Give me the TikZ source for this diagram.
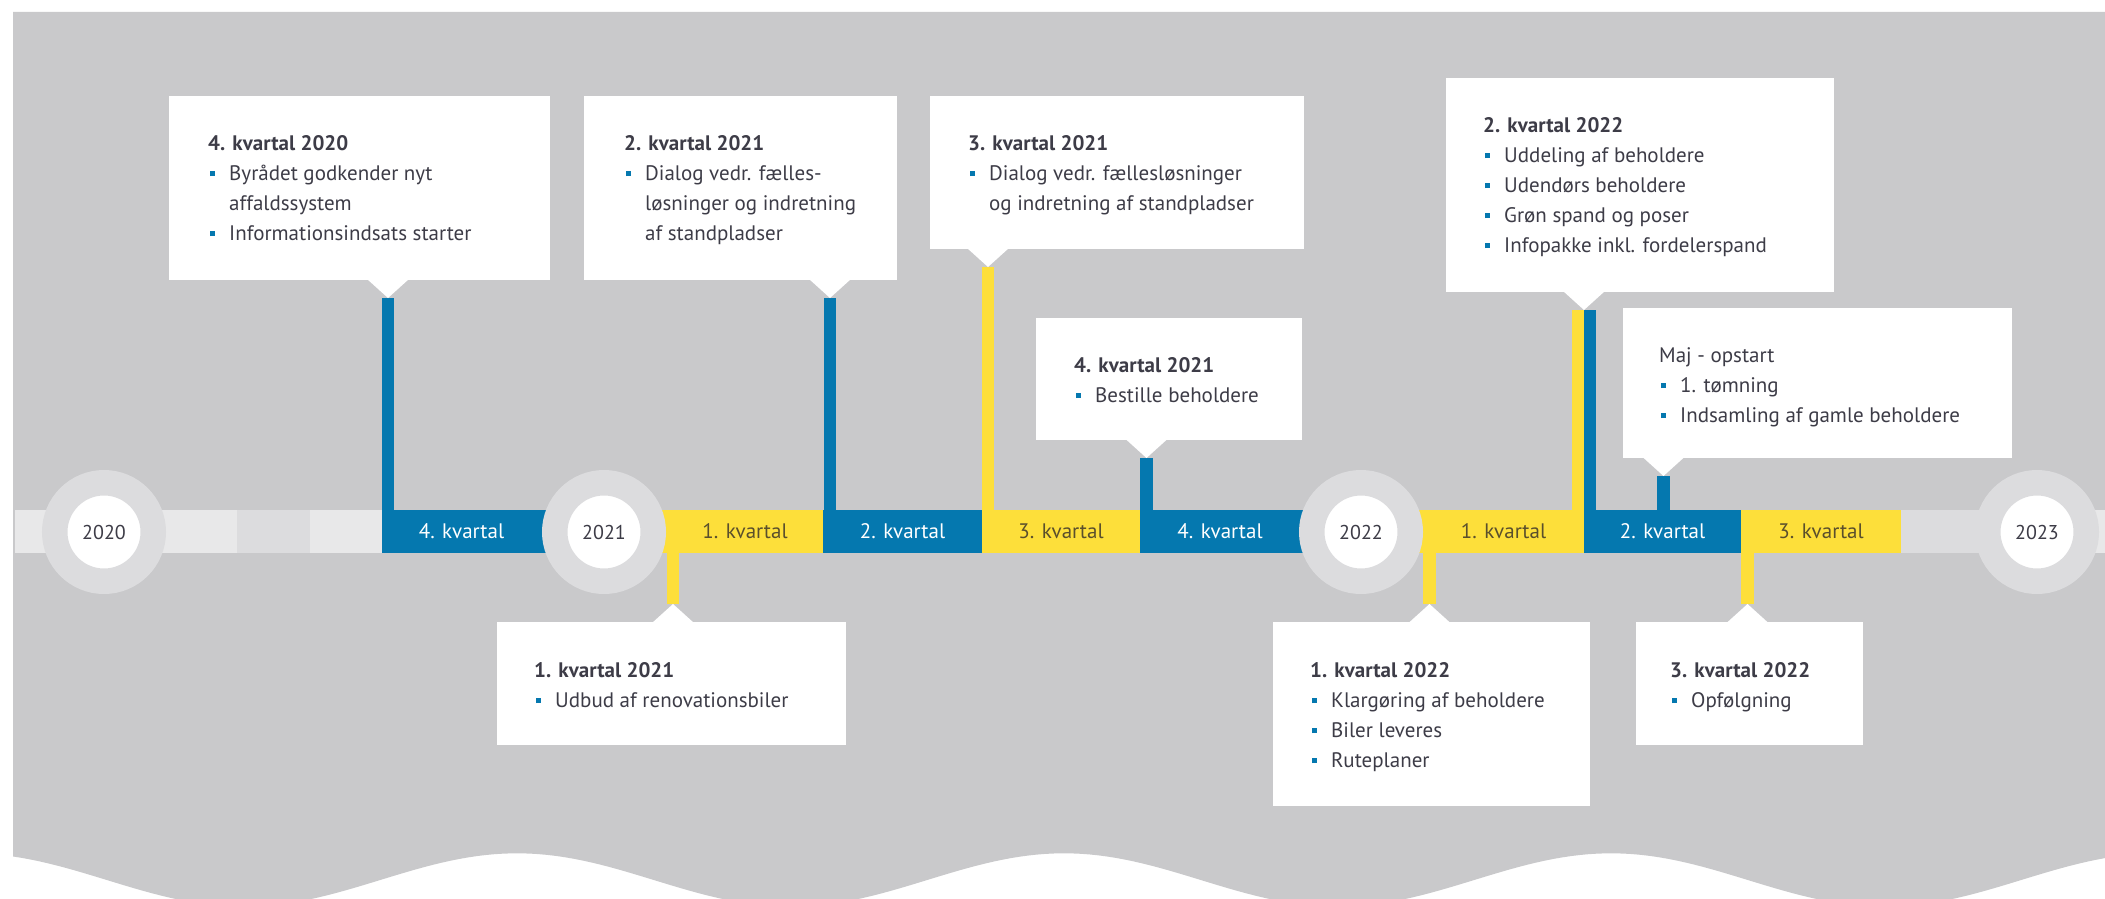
\documentclass[tikz,border=0pt]{standalone}
\usepackage{fontspec}
\setmainfont{PT Sans}
\usetikzlibrary{positioning}

\definecolor{bggray}{HTML}{C9C9CB}
\definecolor{barlite}{HTML}{E8E8E9}
\definecolor{barmid}{HTML}{DCDCDE}
\definecolor{kblue}{HTML}{0578AF}
\definecolor{kyellow}{HTML}{FDDF3A}
\definecolor{textdark}{HTML}{3D3C47}
\definecolor{yeltext}{HTML}{5A4F2C}

% bullet and indent for the box texts
\newcommand{\bul}{\makebox[21pt][l]{\hspace*{2pt}\textcolor{kblue}{\rule[4pt]{5pt}{5pt}}}}
\newcommand{\ind}{\hspace*{21pt}}

\begin{document}
\begin{tikzpicture}[x=1pt, y=-1pt,
    box/.style = {fill=white, anchor=north west, inner sep=0pt},
    txt/.style = {align=left, inner sep=0pt, text=textdark, font=\fontsize{21}{30}\selectfont},
    qtr/.style = {minimum height=43pt, inner sep=0pt, font=\fontsize{21}{21}\selectfont},
    qblue/.style = {qtr, fill=kblue, text=white},
    qyel/.style = {qtr, fill=kyellow, text=yeltext},
    year/.style = {circle, fill=white, draw=barmid, line width=25.5pt, minimum size=98.5pt,
                   inner sep=0pt, text=textdark, font=\fontsize{20}{20}\selectfont},
    stemblue/.style = {draw=kblue, line width=12.5pt},
    stemyel/.style = {draw=kyellow, line width=12.5pt}]

\useasboundingbox (0,0) rectangle (2105,899);
\clip (0,0) rectangle (2105,899);

% background with wavy bottom
\fill[bggray] (13,12) -- (2105,12)
    -- plot[domain=2105:13, samples=240] (\x, {880-26.7*cos((\x-517)*0.65814)}) -- cycle;

% pointer tips
\coordinate (pA) at (388,298);
\coordinate (pB) at (830,298);
\coordinate (pC) at (988,267);
\coordinate (pD) at (1146.5,458);
\coordinate (pE) at (1584,310);
\coordinate (pEy) at (1578,310);
\coordinate (pEb) at (1590,310);
\coordinate (pF) at (1663.5,476);
\coordinate (pG) at (673,604);
\coordinate (pH) at (1429.5,604);
\coordinate (pI) at (1747.5,604);
\coordinate (bar) at (0,531.5);

% stems (drawn below the bar)
\draw[stemblue] (pA) -- (pA |- bar);
\draw[stemblue] (pB) -- (pB |- bar);
\draw[stemyel] (pC) -- (pC |- bar);
\draw[stemblue] (pD) -- (pD |- bar);
\draw[stemyel] (pEy) -- (pEy |- bar);
\draw[stemblue] (pEb) -- (pEb |- bar);
\draw[stemblue] (pF) -- (pF |- bar);
\draw[stemyel] (pG) -- (pG |- bar);
\draw[stemyel] (pH) -- (pH |- bar);
\draw[stemyel] (pI) -- (pI |- bar);

% the bar
\node[qtr, fill=barlite, minimum width=367pt] (lite0) at (198.5,531.5) {};
\node[qtr, fill=barmid, minimum width=73pt] (mid0) at (273.5,531.5) {};
\node[qblue, minimum width=159pt] (q4a) at (461.5,531.5) {4. kvartal};
\node[qyel, minimum width=156pt] (q1b) at (745,531.5) {1. kvartal};
\node[qblue, minimum width=159pt] (q2b) at (902.5,531.5) {2. kvartal};
\node[qyel, minimum width=158pt] (q3b) at (1061,531.5) {3. kvartal};
\node[qblue, minimum width=160pt] (q4b) at (1220,531.5) {4. kvartal};
\node[qyel, minimum width=161pt] (q1c) at (1503.5,531.5) {1. kvartal};
\node[qblue, minimum width=157pt] (q2c) at (1662.5,531.5) {2. kvartal};
\node[qyel, minimum width=160pt] (q3c) at (1821,531.5) {3. kvartal};
\node[qtr, fill=barmid, minimum width=136pt] (mid1) at (1969,531.5) {};
\node[qtr, fill=barlite, minimum width=68pt] (lite1) at (2071,531.5) {};
\fill[kblue] (q4a.north east) rectangle ++(15,43);
\fill[kyellow] (q1b.north west) rectangle ++(-15,43);
\fill[kblue] (q4b.north east) rectangle ++(15,43);
\fill[kyellow] (q1c.north west) rectangle ++(-15,43);

% years
\node[year] (y2020) at (104,532) {2020};
\node[year] (y2021) at (604,532) {2021};
\node[year] (y2022) at (1361,532) {2022};
\node[year] (y2023) at (2037,532) {2023};

% boxes above
\node[box, minimum width=381pt, minimum height=184pt] (bA) at (169,96) {};
\fill[white] (pA) -- ++(-21,-19) -- ++(42,0) -- cycle;
\node[txt, below right=39pt and 39pt of bA.north west] (xA)
    {\textbf{4. kvartal 2020}\\ \bul Byrådet godkender nyt\\ \ind affaldssystem\\ \bul Informationsindsats starter};

\node[box, minimum width=313pt, minimum height=184pt] (bB) at (584,96) {};
\fill[white] (pB) -- ++(-21,-19) -- ++(42,0) -- cycle;
\node[txt, below right=39pt and 40pt of bB.north west] (xB)
    {\textbf{2. kvartal 2021}\\ \bul Dialog vedr. fælles-\\ \ind løsninger og indretning\\ \ind af standpladser};

\node[box, minimum width=374pt, minimum height=153pt] (bC) at (930,96) {};
\fill[white] (pC) -- ++(-21,-19) -- ++(42,0) -- cycle;
\node[txt, below right=39pt and 38pt of bC.north west] (xC)
    {\textbf{3. kvartal 2021}\\ \bul Dialog vedr. fællesløsninger\\ \ind og indretning af standpladser};

\node[box, minimum width=266pt, minimum height=122pt] (bD) at (1036,318) {};
\fill[white] (pD) -- ++(-21,-19) -- ++(42,0) -- cycle;
\node[txt, below right=39pt and 38pt of bD.north west] (xD)
    {\textbf{4. kvartal 2021}\\ \bul Bestille beholdere};

\node[box, minimum width=388pt, minimum height=214pt] (bE) at (1446,78) {};
\fill[white] (pE) -- ++(-21,-19) -- ++(42,0) -- cycle;
\node[txt, below right=39pt and 37pt of bE.north west] (xE)
    {\textbf{2. kvartal 2022}\\ \bul Uddeling af beholdere\\ \bul Udendørs beholdere\\ \bul Grøn spand og poser\\ \bul Infopakke inkl. fordelerspand};

\node[box, minimum width=389pt, minimum height=150pt] (bF) at (1623,308) {};
\fill[white] (pF) -- ++(-21,-19) -- ++(42,0) -- cycle;
\node[txt, below right=39pt and 36pt of bF.north west] (xF)
    {Maj - opstart\\ \bul 1. tømning\\ \bul Indsamling af gamle beholdere};

% boxes below
\node[box, minimum width=349pt, minimum height=123pt] (bG) at (497,622) {};
\fill[white] (pG) -- ++(-21,19) -- ++(42,0) -- cycle;
\node[txt, below right=40pt and 37pt of bG.north west] (xG)
    {\textbf{1. kvartal 2021}\\ \bul Udbud af renovationsbiler};

\node[box, minimum width=317pt, minimum height=184pt] (bH) at (1273,622) {};
\fill[white] (pH) -- ++(-21,19) -- ++(42,0) -- cycle;
\node[txt, below right=40pt and 37pt of bH.north west] (xH)
    {\textbf{1. kvartal 2022}\\ \bul Klargøring af beholdere\\ \bul Biler leveres\\ \bul Ruteplaner};

\node[box, minimum width=227pt, minimum height=123pt] (bI) at (1636,622) {};
\fill[white] (pI) -- ++(-21,19) -- ++(42,0) -- cycle;
\node[txt, below right=40pt and 34pt of bI.north west] (xI)
    {\textbf{3. kvartal 2022}\\ \bul Opfølgning};
\end{tikzpicture}
\end{document}
